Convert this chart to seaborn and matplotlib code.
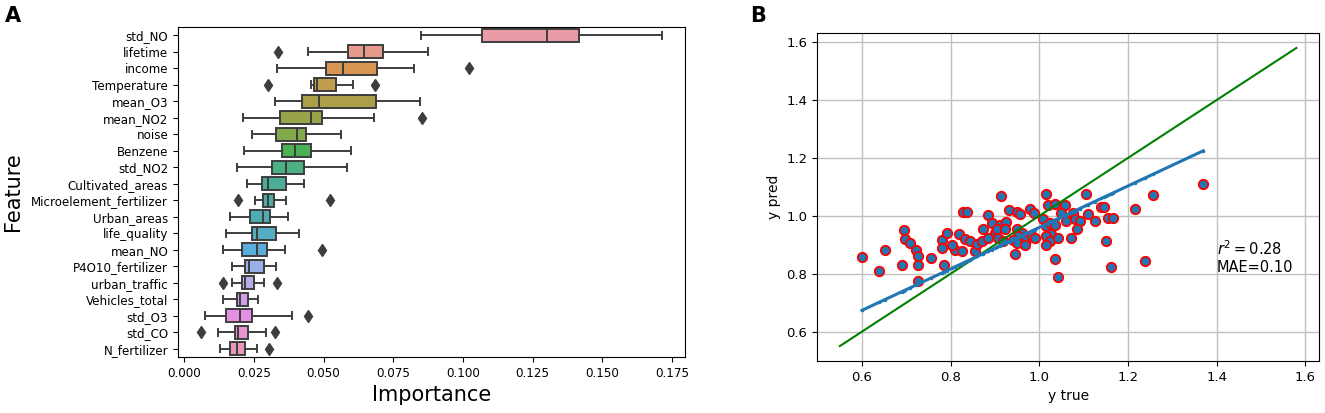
import numpy as np
import pandas as pd
import matplotlib
matplotlib.use('Agg')
import matplotlib.pyplot as plt
import seaborn as sns

# ---- panel A: feature importance summaries ----
features = ['std_NO', 'lifetime', 'income', 'Temperature', 'mean_O3', 'mean_NO2',
            'noise', 'Benzene', 'std_NO2', 'Cultivated_areas', 'Microelement_fertilizer',
            'Urban_areas', 'life_quality', 'mean_NO', 'P4O10_fertilizer', 'urban_traffic',
            'Vehicles_total', 'std_O3', 'std_CO', 'N_fertilizer']
whisker_lo = [0.0848, 0.0445, 0.0334, 0.0455, 0.0326, 0.0210, 0.0245, 0.0216, 0.0189, 0.0225,
              0.0254, 0.0165, 0.0149, 0.0138, 0.0173, 0.0173, 0.0138, 0.0075, 0.0120, 0.0129]
q1 = [0.1068, 0.0587, 0.0508, 0.0466, 0.0422, 0.0344, 0.0329, 0.0350, 0.0314, 0.0279,
      0.0282, 0.0237, 0.0243, 0.0209, 0.0219, 0.0208, 0.0189, 0.0149, 0.0183, 0.0165]
median = [0.1301, 0.0645, 0.0571, 0.0478, 0.0484, 0.0455, 0.0406, 0.0396, 0.0365, 0.0302,
          0.0302, 0.0284, 0.0263, 0.0260, 0.0234, 0.0218, 0.0199, 0.0199, 0.0195, 0.0191]
q3 = [0.1416, 0.0712, 0.0692, 0.0544, 0.0688, 0.0495, 0.0436, 0.0454, 0.0431, 0.0364,
      0.0323, 0.0308, 0.0329, 0.0299, 0.0288, 0.0250, 0.0231, 0.0245, 0.0228, 0.0217]
whisker_hi = [0.1713, 0.0875, 0.0824, 0.0607, 0.0846, 0.0681, 0.0563, 0.0598, 0.0583, 0.0431,
              0.0364, 0.0374, 0.0412, 0.0362, 0.0330, 0.0285, 0.0264, 0.0386, 0.0293, 0.0260]
outliers = [[], [0.0338], [0.1022], [0.0300, 0.0683], [], [0.0852], [], [], [], [],
            [0.0195, 0.0523], [], [], [0.0496], [], [0.0140, 0.0335], [], [0.0446],
            [0.0059, 0.0327], [0.0303]]

# ---- panel B: predictions ----
y_true = [0.600, 0.638, 0.651, 0.694, 0.698, 0.709, 0.690, 0.722, 0.726, 0.726, 0.726, 0.756,
          0.784, 0.780, 0.780, 0.791, 0.829, 0.838, 0.818, 0.810, 0.825, 0.832, 0.844, 0.855,
          0.860, 0.870, 0.874, 0.885, 0.803, 0.900, 0.913, 1.016, 1.106, 1.020, 1.035, 1.057,
          0.931, 0.949, 0.956, 0.979, 0.988, 0.893, 0.911, 0.926, 0.904, 0.923, 0.885, 0.908,
          0.919, 0.949, 0.960, 0.952, 0.941, 0.949, 0.971, 0.983, 0.990, 0.967, 0.945, 1.009,
          1.016, 1.024, 1.035, 1.027, 1.016, 1.024, 1.016, 1.042, 1.050, 1.061, 1.076, 1.080,
          1.091, 1.084, 1.071, 1.110, 1.125, 1.140, 1.155, 1.166, 1.151, 1.162, 1.035, 1.042,
          1.370, 1.256, 1.216, 1.145, 1.239]
y_pred = [0.858, 0.811, 0.883, 0.951, 0.921, 0.907, 0.831, 0.883, 0.862, 0.831, 0.775, 0.853,
          0.831, 0.918, 0.889, 0.941, 1.015, 1.015, 0.938, 0.881, 0.877, 0.921, 0.912, 0.880,
          0.904, 0.912, 0.953, 1.002, 0.901, 0.941, 1.069, 1.075, 1.075, 1.037, 1.040, 1.037,
          1.020, 1.013, 1.005, 1.025, 1.011, 0.976, 0.970, 0.978, 0.953, 0.955, 0.924, 0.924,
          0.912, 0.953, 0.941, 0.930, 0.918, 0.907, 0.918, 0.930, 0.924, 0.901, 0.869, 0.988,
          0.965, 0.976, 0.970, 0.939, 0.930, 0.912, 0.901, 0.924, 1.011, 0.982, 1.011, 0.990,
          0.982, 0.953, 0.924, 1.005, 0.982, 1.029, 0.994, 0.994, 0.912, 0.825, 0.852, 0.788,
          1.110, 1.073, 1.025, 1.031, 0.843]
fit_slope = 0.716
fit_intercept = 0.244
ident_ends = [0.55, 1.58]
r2 = 0.28
mae = 0.10

# long table whose quartiles / whiskers / fliers reproduce the read summaries
rows = []
for i, f in enumerate(features):
    vals = [whisker_lo[i]] * 4 + [q1[i]] * 4 + [median[i]] * 4 + [q3[i]] * 4 + [whisker_hi[i]] * 4
    vals += outliers[i]
    for v in vals:
        rows.append({'Feature': f, 'Importance': v})
imp = pd.DataFrame(rows)

fig = plt.figure(figsize=(13.25, 4.13), dpi=100)
ax1 = fig.add_axes([0.1343, 0.1356, 0.3826, 0.799])
ax2 = fig.add_axes([0.6166, 0.1259, 0.379, 0.794])

line_c = '#3d3d3d'
sns.boxplot(data=imp, x='Importance', y='Feature', hue='Feature', order=features,
            hue_order=features, palette=sns.husl_palette(len(features), l=0.71),
            saturation=0.72, legend=False, orient='h', ax=ax1, linecolor=line_c,
            linewidth=1.4, fliersize=6.5,
            flierprops=dict(marker='d', markerfacecolor=line_c, markeredgecolor=line_c))
ax1.set_xlabel('Importance', fontsize=15)
ax1.set_ylabel('Feature', fontsize=15, labelpad=6)
ax1.tick_params(labelsize=8.6)
ax1.set_xticks([0.0, 0.025, 0.05, 0.075, 0.1, 0.125, 0.15, 0.175])
ax1.set_xticklabels(['0.000', '0.025', '0.050', '0.075', '0.100', '0.125', '0.150', '0.175'])
ax1.set_xlim(-0.0022, 0.1796)

# panel B
pred = pd.DataFrame({'y_true': y_true, 'y_pred': y_pred})
ax2.plot(ident_ends, ident_ends, color='green', lw=1.5, zorder=3)
fit_x = np.sort(np.array(y_true))
ax2.plot(fit_x, fit_slope * fit_x + fit_intercept, color='#1f77b4', lw=2.2,
         marker='.', ms=3, zorder=4)
sns.scatterplot(data=pred, x='y_true', y='y_pred', ax=ax2, color='#1f77b4',
                edgecolor='red', linewidth=1.3, s=46, zorder=2)
ax2.grid(True, color='#c0c0c0', lw=1)
ax2.set_axisbelow(True)
ax2.set_xlabel('y true', fontsize=10)
ax2.set_ylabel('y pred', fontsize=10)
ax2.tick_params(labelsize=9.5)
ax2.text(1.40, 0.795, f'$r^2={r2:.2f}$\nMAE={mae:.2f}',
         fontsize=10.5, ha='left', va='bottom')

fig.text(5 / 1325, 1 - 22 / 413, 'A', fontsize=15, fontweight='bold', ha='left', va='baseline')
fig.text(750 / 1325, 1 - 22 / 413, 'B', fontsize=15, fontweight='bold', ha='left', va='baseline')

fig.savefig('out.png', dpi=100)
